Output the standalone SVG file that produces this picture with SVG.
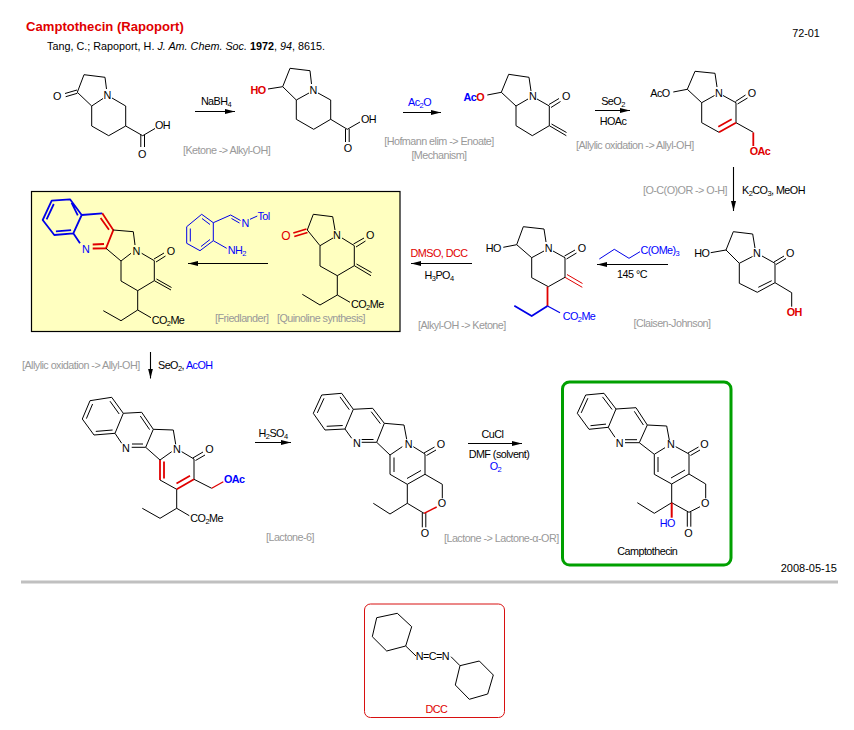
<svg xmlns="http://www.w3.org/2000/svg" width="854" height="730" viewBox="0 0 854 730">
<style>
text{font-family:"Liberation Sans",Arial,sans-serif;font-size:10.8px;letter-spacing:-.55px;fill:#000}
.n{letter-spacing:0}
.bd{fill:none;stroke:#000;stroke-width:1;stroke-linejoin:round}
.rb{fill:none;stroke:#e00000;stroke-width:1.8}
.rt{fill:none;stroke:#e00000;stroke-width:1}
.bb{fill:none;stroke:#0000e8;stroke-width:1.8;stroke-linejoin:round}
.bt{fill:none;stroke:#0000e8;stroke-width:1}
.ar{fill:none;stroke:#000;stroke-width:1.1}
.c{text-anchor:middle}
.g{fill:#999}
.r{fill:#e00000}
.u{fill:#0000ff}
.k{font-weight:bold}
.s{font-size:7.5px}
</style>
<defs>
<marker id="ah" markerUnits="userSpaceOnUse" markerWidth="11" markerHeight="8" refX="10" refY="4" orient="auto"><path d="M0,1.5 L10,4 L0,6.5 Z" fill="#000"/></marker>
</defs>
<rect width="854" height="730" fill="#fff"/>

<g id="header">
<text x="26" y="31" class="r k n" style="font-size:13.1px">Camptothecin (Rapoport)</text>
<text x="47" y="50" class="n">Tang, C.; Rapoport, H. <tspan font-style="italic">J. Am. Chem. Soc.</tspan> <tspan font-weight="bold">1972</tspan>, <tspan font-style="italic">94</tspan>, 8615.</text>
<text x="806" y="37" class="c n">72-01</text>
</g>

<rect id="highlight-box" x="31.5" y="191.5" width="368.5" height="140" fill="#ffffc0" stroke="#000" stroke-width="1.2"/>

<g id="connectors">
<path class="ar" marker-end="url(#ah)" d="M195,111.5H235"/>
<path class="ar" marker-end="url(#ah)" d="M403,112.5H441"/>
<path class="ar" marker-end="url(#ah)" d="M595,110.5H630"/>
<path class="ar" marker-end="url(#ah)" d="M733.5,167V211"/>
<path class="ar" marker-end="url(#ah)" d="M668,264.5H597"/>
<path class="ar" marker-end="url(#ah)" d="M472,263.5H411"/>
<path class="ar" marker-end="url(#ah)" d="M268,263.5H188"/>
<path class="ar" marker-end="url(#ah)" d="M150.5,352V378.5"/>
<path class="ar" marker-end="url(#ah)" d="M255,442.5H291"/>
<path class="ar" marker-end="url(#ah)" d="M468,443.5H522"/>
</g>

<g id="labels">
<text x="216" y="105" class="c">NaBH<tspan class="s" dy="2">4</tspan></text>
<text x="183" y="153.5" class="g">[Ketone -&gt; Alkyl-OH]</text>
<text x="408" y="106" class="u">Ac<tspan class="s" dy="2">2</tspan><tspan dy="-2">O</tspan></text>
<text x="439" y="145" class="c g">[Hofmann elim -&gt; Enoate]</text>
<text x="439" y="158.5" class="c g">[Mechanism]</text>
<text x="613" y="105" class="c">SeO<tspan class="s" dy="2">2</tspan></text>
<text x="613" y="124.5" class="c">HOAc</text>
<text x="576" y="148.5" class="g">[Allylic oxidation -&gt; Allyl-OH]</text>
<text x="643" y="194" class="g">[O-C(O)OR -&gt; O-H]</text>
<text x="742" y="194">K<tspan class="s" dy="2">2</tspan><tspan dy="-2">CO</tspan><tspan class="s" dy="2">3</tspan><tspan dy="-2">, MeOH</tspan></text>
<text x="640.5" y="254" class="u">C(OMe)<tspan class="s" dy="2">3</tspan></text>
<text x="632" y="277.5" class="c">145 °C</text>
<text x="672" y="326.5" class="c g">[Claisen-Johnson]</text>
<text x="439" y="257" class="c r">DMSO, DCC</text>
<text x="439" y="279" class="c">H<tspan class="s" dy="2">3</tspan><tspan dy="-2">PO</tspan><tspan class="s" dy="2">4</tspan></text>
<text x="418" y="329" class="g">[Alkyl-OH -&gt; Ketone]</text>
<text x="215" y="321.5" class="g">[Friedlander]</text>
<text x="277" y="321.5" class="g">[Quinoline synthesis]</text>
<text x="22" y="368.5" class="g">[Allylic oxidation -&gt; Allyl-OH]</text>
<text x="158" y="369">SeO<tspan class="s" dy="2">2</tspan><tspan dy="-2">, </tspan><tspan class="u">AcOH</tspan></text>
<text x="273" y="436.5" class="c">H<tspan class="s" dy="2">2</tspan><tspan dy="-2">SO</tspan><tspan class="s" dy="2">4</tspan></text>
<text x="290" y="541" class="c g">[Lactone-6]</text>
<text x="492.5" y="437.5" class="c">CuCl</text>
<text x="499" y="457.5" class="c">DMF (solvent)</text>
<text x="495.5" y="470" class="c u">O<tspan class="s" dy="2">2</tspan></text>
<text x="444" y="542" class="g">[Lactone -&gt; Lactone-α-OR]</text>
<text x="837" y="572" text-anchor="end" class="n" style="font-size:11px">2008-05-15</text>
</g>

<rect id="divider" x="21" y="580.5" width="817" height="3" fill="#c0c0c0"/>

<g id="mol-1">
<path class="bd" d="M77.3,92.3L84,74.7L105,77.3L106.5,89M103,98.5L91.7,106L77.3,92.3M91.7,106V126L108.7,135.7L125.7,126V106L112,98M125.7,126L142.7,135.7L155,128.5M65,93.5L77,90M65.7,96.7L77.3,93.3M140.8,135V147M144.5,135V147"/>
<text x="107" y="99" class="c">N</text><text x="57" y="100" class="c">O</text><text x="155" y="129">OH</text><text x="142" y="158" class="c">O</text>
</g>
<g id="mol-2">
<path class="bd" d="M268,89L282.7,86.7L290,68.3L310,70.7L311.5,84M309,93L296.3,100L282.7,86.7M296.3,100V119.3L313.7,129.3L330.7,119.3V100L318,93M330.7,119.3L347.3,129.3L360,122M345.5,129V142M349.2,129V142"/>
<text x="258" y="94" class="c r k">HO</text><text x="313" y="93.5" class="c">N</text><text x="361" y="123">OH</text><text x="347.7" y="151.5" class="c">O</text>
</g>
<g id="mol-3">
<path class="bd" d="M487.3,95L501.3,92.3L508.7,74.3L529,77.3L531,91M528,99L516,106L501.3,92.3M516,106V125.7L532.3,135.7L549.3,125.7V106L537,99M549.3,125.7L566.3,135.7M551.5,124L566.5,132.5M549,104.5L559,98.5M551,107.5L560.5,101.5"/>
<text x="463.5" y="101" class="u k">Ac<tspan class="r">O</tspan></text><text x="532.5" y="100" class="c">N</text><text x="566" y="100" class="c">O</text>
</g>
<g id="mol-4">
<path class="bd" d="M673.3,92L687.3,89.3L695,71.3L715,73.3L717,87M714.5,95.5L701.7,102.7L687.3,89.3M701.7,102.7V122.7L719,132.3M736,122.7V102.7L723,95.5M736,122.7L753.3,132.3M735.5,101.5L745.5,95M737.5,104L747.5,98"/>
<path class="rb" d="M719,132.3L736,122.7M718.3,126.7L731.7,119.3M753.3,132.5V146"/>
<text x="660" y="97" class="c">AcO</text><text x="718.7" y="96.5" class="c">N</text><text x="751.7" y="96.5" class="c">O</text><text x="760" y="155" class="c r k">OAc</text>
</g>

<g id="mol-5">
<path class="bb" d="M42.7,220L51.7,200.7L70,199.3L81.7,215L73.3,233.3L54.3,235ZM46.6,219.4L53.8,204M55.9,231.4L71.1,230.1M71.6,202.9L77.8,215.4M81.7,215L102.3,213.3M73.3,233.3L80,243.3"/>
<path class="rb" d="M102.3,213.3L113.3,230L106,248.3L92.7,248.5M100.6,218L109,229.7M92.7,244.5L104,244"/>
<path class="bd" d="M113.3,230L133.3,231.7L135,245M106,248.3L121,261L131,253.3M121,261V281L137.7,290.7L154.3,280.7V260.7L141.7,253.3M154.3,280.7L171,290M156.5,279L171.5,287.5M154,259L164,253M156,262L165.5,256M137.7,290.7V310L121,320.7L103.3,310.7M137.7,310L151,317.7"/>
<text x="85.7" y="253" class="c u">N</text><text x="136" y="254.5" class="c">N</text><text x="170.7" y="255" class="c">O</text>
<text x="151.7" y="323.5">CO<tspan class="s" dy="2">2</tspan><tspan dy="-2">Me</tspan></text>
</g>
<g id="reagent-aminobenzaldimine">
<path class="bt" d="M186.7,226.7L201.7,214.3L213.3,222.7V240.7L200,250.7L186.7,243.3ZM190.3,228.5V241.5M202,218.5L210,224.5M201,246.5L210,239.5M213.3,222.7L230.7,215L240.5,220.5M231.5,218.5L239.5,223M250,219.3L257.3,216M213.3,240.7L226.7,248.3"/>
<text x="245" y="226.5" class="c u">N</text><text x="257.5" y="219.5" class="u">Tol</text><text x="227.7" y="253.5" class="u">NH<tspan class="s" dy="2">2</tspan></text>
</g>
<g id="mol-6">
<path class="bd" d="M307.3,230L313.3,214.3L332.7,216.7L335,230M333,238L320,245.7L307.3,230M320,245.7V266L337.3,275.7L354.3,265.7V245.7L342,238M354.3,265.7L371,275.7M356.5,264L371.5,272.5M353.5,244L364,238M356,247L365.5,241M337.3,275.7V295L320,305L302.3,294.3M337.3,295L350,302.3"/>
<path class="rb" d="M293.3,233L306.5,229M294.3,236.5L307.5,232.5"/>
<text x="285.7" y="240" class="c r" style="font-size:12px">O</text><text x="336.7" y="239" class="c">N</text><text x="370" y="239" class="c">O</text>
<text x="351" y="307.5">CO<tspan class="s" dy="2">2</tspan><tspan dy="-2">Me</tspan></text>
</g>
<g id="mol-7">
<path class="bd" d="M503.3,247.3L516.7,244.7L523.3,226.7L544,229L546,242M544,251L531.7,257.7L516.7,244.7M531.7,257.7V277.7L548.3,286.7L565,277.3V257.7L553,251M564.5,256L575,250M566.5,259L576.5,253"/>
<path class="rt" d="M565,277.3L582.3,287.3M567,274.5L582.5,283.5"/>
<path class="rb" d="M547.5,286.7V306"/>
<path class="bb" d="M547.5,306L531.7,316L514.3,305.7"/>
<path class="bb" style="stroke-width:1.2" d="M547.5,306L560,312.7"/>
<text x="493.3" y="251.5" class="c">HO</text><text x="548.3" y="251.5" class="c">N</text><text x="581.7" y="251.5" class="c">O</text>
<text x="562.7" y="320" class="u">CO<tspan class="s" dy="2">2</tspan><tspan dy="-2">Me</tspan></text>
</g>
<g id="reagent-orthoester">
<path class="bt" d="M599.3,259L614.3,249.3L629,258.3L640,251.7"/>
</g>
<g id="mol-8">
<path class="bd" d="M710.7,252.7L726,250L733.3,231.7L752.7,234L755,248M752.5,256.5L739.3,263.3L726,250M739.3,263.3V283.3L757.3,292.3L775,282.7V263.3L762,256M758.3,287.3L771.7,280.7M775,282.7L791.7,292.7V306.7M774,262L784,256M776,264.5L786,258.5"/>
<text x="701.7" y="257.3" class="c">HO</text><text x="756.7" y="257.3" class="c">N</text><text x="790" y="257.3" class="c">O</text><text x="794.3" y="316" class="c r k">OH</text>
</g>
<g id="mol-9">
<path class="bd" d="M82.3,419L90,400.7L111.7,397.3L123.3,413.3L115,433.3L94,435ZM86.4,418.6L92.6,404M95.8,431.4L112.6,430M110,401.2L119.2,414M123.3,413.3L141.7,412.3L153.3,429.3L145.7,447.3L131.7,447.3M140.3,416L149.6,429.6M143,444L132,444M115,433.3L121.7,443.3M153.3,429.3L173.3,430L175.7,444.3M145.7,447.3L160,460L171.7,451.7M160,480L176.7,489.3M194,479.3V459L181.7,451.7M192.8,458L203,452M195.5,460.5L205,455M194,479.3L211.7,488.3M176.7,489.3V508.3L160,518.3L142.3,508.3M176.7,508.3L189.3,515.7"/>
<path class="rb" d="M160,460V480M164,461.5V478.5M176.7,489.3L194,479.3M176.5,483.5L190,475.8"/>
<path class="rb" style="stroke-width:1.3" d="M211.7,488.3L223.3,481.7"/>
<text x="125.7" y="451.5" class="c">N</text><text x="176.7" y="453" class="c">N</text><text x="209.3" y="453" class="c">O</text>
<text x="224" y="483" class="u k">OAc</text>
<text x="190.3" y="522">CO<tspan class="s" dy="2">2</tspan><tspan dy="-2">Me</tspan></text>
</g>
<g id="mol-10">
<path class="bd" d="M313.3,413.3L321.7,395L341.7,393.3L353.3,409.3L345,429L325,430ZM317.3,412.9L324,398.3M326.7,426.3L342.7,425.5M340,396.9L349.3,409.7M353.3,409.3L372.7,408.3L384.3,423.3L376.7,442.3L361.7,442.3M371.2,411.7L380.4,423.7M361.7,439.5L373.5,439.5M345,429L351.7,438.3M384.3,423.3L404,425L406.7,439.3M376.7,442.3L390,455L402.3,446.7M390,455V474.3L407.3,484.3L425,474.3V454L413.3,446.7M394,457.5V472M407,478.5L421,470.5M424,453L434.5,447M426.5,455.5L436,450M425,474.3L442.3,484.3V498.3M407.3,484.3V503.3L424,513.3M422.3,513V527.3M425.8,513V527.3M407.3,503.3L390,514L373.3,503.3"/>
<path class="rb" style="stroke-width:1.4" d="M424,513.3L436.7,507"/>
<text x="356.7" y="447.3" class="c">N</text><text x="408.3" y="447.5" class="c">N</text><text x="440.7" y="448" class="c">O</text><text x="441.7" y="506.7" class="c">O</text><text x="424.7" y="537.3" class="c">O</text>
</g>
<g id="mol-11-camptothecin">
<rect x="562.5" y="382" width="168.5" height="183" rx="7" fill="none" stroke="#00a000" stroke-width="3"/>
<path class="bd" d="M577.3,413.3L585.7,395L604,393.3L616,409L608.3,427.3L589,429.3ZM581.2,412.9L587.9,398.2M590.5,425.7L606,424.1M602.5,396.9L612.1,409.5M616,409L636,407.7L647.3,425L639.3,442.7L625,442.7M634.3,411.3L643.4,425M625,439.7L637,439.7M608.3,427.3L615,437.3M647.3,425L666.7,426L669.3,440M639.3,442.7L654.3,454.3L665,447.7M654.3,454.3V474.3L671.7,484L689,474V454L675.7,446.7M658,457V472M671,478L685,470M688,453L698.5,447M690.5,455.5L700,450M689,474L705.7,484V498.3M700,506.7L689,512.3L671.7,502.7V484M687.3,512V526.7M690.8,512V526.7M671.7,502.7L654.3,513.3L637.3,502.7"/>
<path class="rb" style="stroke-width:2" d="M671.7,502.7V517.7"/>
<text x="619.3" y="447.3" class="c">N</text><text x="670.7" y="448" class="c">N</text><text x="704.3" y="448" class="c">O</text><text x="705" y="506.7" class="c">O</text><text x="688.3" y="537.3" class="c">O</text>
<text x="667.3" y="527.3" class="c u">HO</text>
<text x="647.3" y="555" class="c">Camptothecin</text>
</g>
<g id="dcc">
<rect x="364.5" y="604" width="140" height="113.5" rx="6" fill="none" stroke="#d81010" stroke-width="1"/>
<path class="bd" d="M372.3,636.7L376.7,617.7L397.3,613.3L411.7,626.7L405.7,646L386.7,651ZM405.7,646L416,656M451,656.7L460,665.7M460,665.7L479.3,661L493.3,675L487.7,694L469.3,699.3L455.3,685Z"/>
<text x="432.5" y="660" class="c">N=C=N</text>
<text x="436.3" y="713" class="c r">DCC</text>
</g>
</svg>
